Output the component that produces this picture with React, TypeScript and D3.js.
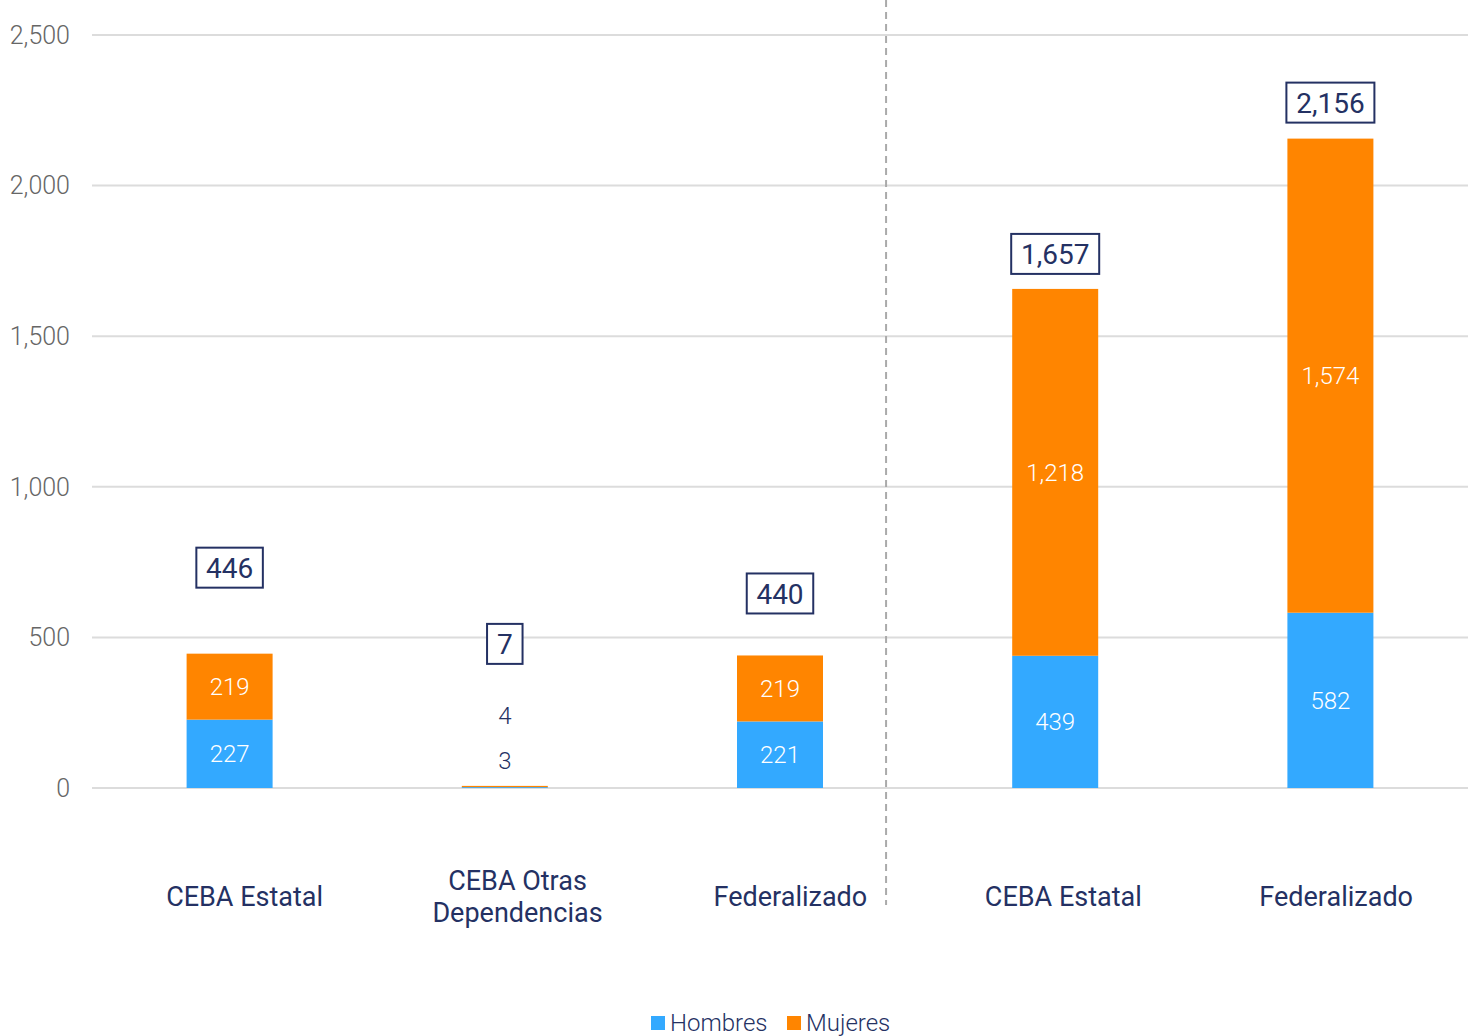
import React from "react";
import * as d3 from "d3";

const categories = ["CEBA Estatal", "CEBA Otras\nDependencias", "Federalizado", "CEBA Estatal", "Federalizado"];
const hombres = [227, 3, 221, 439, 582];
const mujeres = [219, 4, 219, 1218, 1574];
const totals = [446, 7, 440, 1657, 2156];
const yTicks = [0, 500, 1000, 1500, 2000, 2500];
const seriesNames = ["Hombres", "Mujeres"];

// how far each total box sits above its bar (px), as in the source layout
const totalLift = [66, 122, 42, 15, 16];

const BLUE = "#33a9ff";
const ORANGE = "#ff8500";
const NAVY = "#243163";
const FONT = "Roboto, 'Noto Sans', sans-serif";

export default function App() {
  const width = 1473;
  const height = 1036;
  const margin = { left: 92, right: 5, top: 35, bottom: 248 };

  const x = d3
    .scaleBand<number>()
    .domain(d3.range(categories.length))
    .range([margin.left, width - margin.right])
    .paddingInner(0.6875)
    .paddingOuter(0.34375);

  const y = d3
    .scaleLinear()
    .domain([0, 2500])
    .range([height - margin.bottom, margin.top]);

  const fmt = d3.format(",");
  const bw = x.bandwidth();
  const center = (i: number) => (x(i) as number) + bw / 2;
  const gapStart = (x(2) as number) + bw;
  const dividerX = gapStart + ((x(3) as number) - gapStart) / 3;

  return (
    <svg width={width} height={height} style={{ display: "block", position: "absolute", left: 0, top: 0 }} fontFamily={FONT}>
      {/* grid + y ticks */}
      {yTicks.map((t) => (
        <g key={t}>
          <line x1={margin.left} x2={width - margin.right} y1={y(t)} y2={y(t)} stroke="#dcdcdc" strokeWidth={2} />
          <text x={70} y={y(t)} dy="0.35em" textAnchor="end" fontSize={25} fill="#666" fontWeight={300}>
            {fmt(t)}
          </text>
        </g>
      ))}

      {/* divider */}
      <line x1={dividerX} x2={dividerX} y1={0} y2={905} stroke="#aaa" strokeWidth={2} strokeDasharray="7,5" />

      {/* bars */}
      {categories.map((c, i) => {
        const h0 = hombres[i];
        const m0 = mujeres[i];
        const small = y(0) - y(totals[i]) < 30;
        const label = fmt(totals[i]);
        const digits = label.replace(/,/g, "").length;
        const commas = label.length - digits;
        const boxW = digits * 15.5 + commas * 6 + 20;
        const bottom = y(totals[i]) - totalLift[i];
        return (
          <g key={i}>
            <rect x={x(i)} y={y(h0)} width={bw} height={y(0) - y(h0)} fill={BLUE} />
            <rect x={x(i)} y={y(h0 + m0)} width={bw} height={y(h0) - y(h0 + m0)} fill={ORANGE} />
            {small ? (
              <>
                <text x={center(i)} y={761} dy="0.35em" textAnchor="middle" fontSize={24} fill={NAVY} fontWeight={300}>
                  {fmt(h0)}
                </text>
                <text x={center(i)} y={716} dy="0.35em" textAnchor="middle" fontSize={24} fill={NAVY} fontWeight={300}>
                  {fmt(m0)}
                </text>
              </>
            ) : (
              <>
                <text x={center(i)} y={(y(0) + y(h0)) / 2} dy="0.35em" textAnchor="middle" fontSize={24} fill="#fff" fontWeight={300}>
                  {fmt(h0)}
                </text>
                <text x={center(i)} y={(y(h0) + y(h0 + m0)) / 2} dy="0.35em" textAnchor="middle" fontSize={24} fill="#fff" fontWeight={300}>
                  {fmt(m0)}
                </text>
              </>
            )}
            {/* total box */}
            <rect x={center(i) - boxW / 2} y={bottom - 40} width={boxW} height={40} fill="#fff" stroke={NAVY} strokeWidth={2} />
            <text x={center(i)} y={bottom - 20} dy="0.36em" textAnchor="middle" fontSize={28} fill={NAVY}>
              {label}
            </text>
            {/* category label */}
            {c.split("\n").map((line, k, arr) => (
              <text
                key={k}
                x={center(i) + 15 - 2.3 * i}
                y={897 + (k - (arr.length - 1) / 2) * 32}
                dy="0.35em"
                textAnchor="middle"
                fontSize={27}
                fill={NAVY}
              >
                {line}
              </text>
            ))}
          </g>
        );
      })}

      {/* legend */}
      <g transform="translate(651,1016)">
        {seriesNames.map((s, i) => (
          <g key={s} transform={`translate(${i * 136},0)`}>
            <rect x={0} y={0} width={14} height={14} fill={i === 0 ? BLUE : ORANGE} />
            <text x={19} y={7} dy="0.35em" fontSize={24} fill={NAVY} fontWeight={300}>
              {s}
            </text>
          </g>
        ))}
      </g>
    </svg>
  );
}
